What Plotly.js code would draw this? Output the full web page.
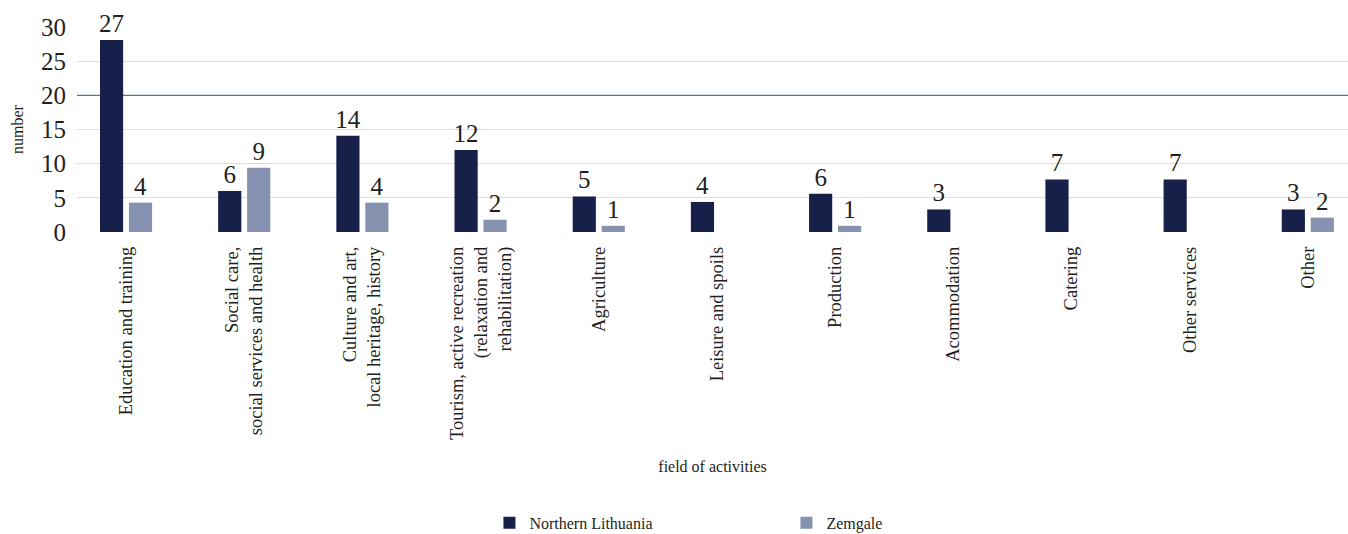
<!DOCTYPE html>
<html>
<head>
<meta charset="utf-8">
<script src="https://cdn.plot.ly/plotly-3.0.1.min.js"></script>
<style>html,body{margin:0;padding:0;background:#fff;}#chart{width:1348px;height:534px;}</style>
</head>
<body>
<div id="chart"></div>
<script>
// Category labels (field of activities)
const categories = [
  "Education and training",
  "Social care,<br>social services and health",
  "Culture and art,<br>local heritage, history",
  "Tourism, active recreation<br>(relaxation and<br>rehabilitation)",
  "Agriculture",
  "Leisure and spoils",
  "Production",
  "Acommodation",
  "Catering",
  "Other services",
  "Other"
];
// Bar heights as drawn in the picture
const northernHeights = [28.1, 6.0, 14.1, 12.0, 5.2, 4.4, 5.6, 3.3, 7.7, 7.7, 3.3];
const zemgaleHeights  = [4.3, 9.4, 4.3, 1.8, 0.9, null, 0.9, null, null, null, 2.1];
// Value labels printed above bars
const northernLabels = ["27", "6", "14", "12", "5", "4", "6", "3", "7", "7", "3"];
const zemgaleLabels  = ["4", "9", "4", "2", "1", "", "1", "", "", "", "2"];
const seriesNames = ["Northern Lithuania", "Zemgale"];
const yTicks = [0, 5, 10, 15, 20, 25, 30];
const lightGridTicks = [0, 5, 10, 15, 25, 30];

const serif = "Liberation Serif, serif";
const textColor = "#231f20";

const traces = [
  {
    type: "bar", name: seriesNames[0], x: categories, y: northernHeights,
    text: northernLabels, textposition: "outside", cliponaxis: false,
    constraintext: "none",
    textfont: {family: serif, size: 25, color: textColor},
    marker: {color: "#172049"}, hoverinfo: "skip"
  },
  {
    type: "bar", name: seriesNames[1], x: categories, y: zemgaleHeights,
    text: zemgaleLabels, textposition: "outside", cliponaxis: false,
    constraintext: "none",
    textfont: {family: serif, size: 25, color: textColor},
    marker: {color: "#8593b1"}, hoverinfo: "skip"
  }
];

const layout = {
  width: 1348, height: 534,
  margin: {l: 77, r: 0, t: 27, b: 302, autoexpand: false},
  paper_bgcolor: "#fff", plot_bgcolor: "#fff",
  font: {family: serif, color: textColor},
  barmode: "group", bargap: 0.51, bargroupgap: 0.2,
  showlegend: true,
  legend: {
    orientation: "h", x: 0.3245, xanchor: "left", y: -1.336, yanchor: "top",
    font: {family: serif, size: 16, color: textColor},
    entrywidth: 252, entrywidthmode: "pixels", traceorder: "normal"
  },
  xaxis: {
    type: "category", range: [-0.415, 10.34],
    tickangle: -90, ticks: "", showgrid: false, zeroline: false, showline: false,
    tickfont: {family: serif, size: 18.5, color: textColor},
    ticklabelstandoff: 10, automargin: false,
    title: {text: "field of activities", font: {family: serif, size: 16, color: textColor}, standoff: 21}
  },
  yaxis: {
    range: [0, 30], tickvals: yTicks, ticktext: yTicks.map(String),
    showgrid: false, zeroline: false, showline: false,
    minor: {tickvals: lightGridTicks, showgrid: true, gridcolor: "#d9dfea", gridwidth: 1, ticks: ""},
    ticks: "", tickfont: {family: serif, size: 25, color: textColor},
    ticklabelstandoff: 10, automargin: false,
    title: {text: "number", font: {family: serif, size: 16, color: textColor}, standoff: 13}
  },
  shapes: [
    {type: "line", xref: "paper", x0: 0, x1: 1, yref: "y", y0: 20, y1: 20,
     line: {color: "#5a6fa5", width: 1.2}, layer: "below"}
  ]
};

Plotly.newPlot("chart", traces, layout, {displayModeBar: false, staticPlot: true});
</script>
</body>
</html>
